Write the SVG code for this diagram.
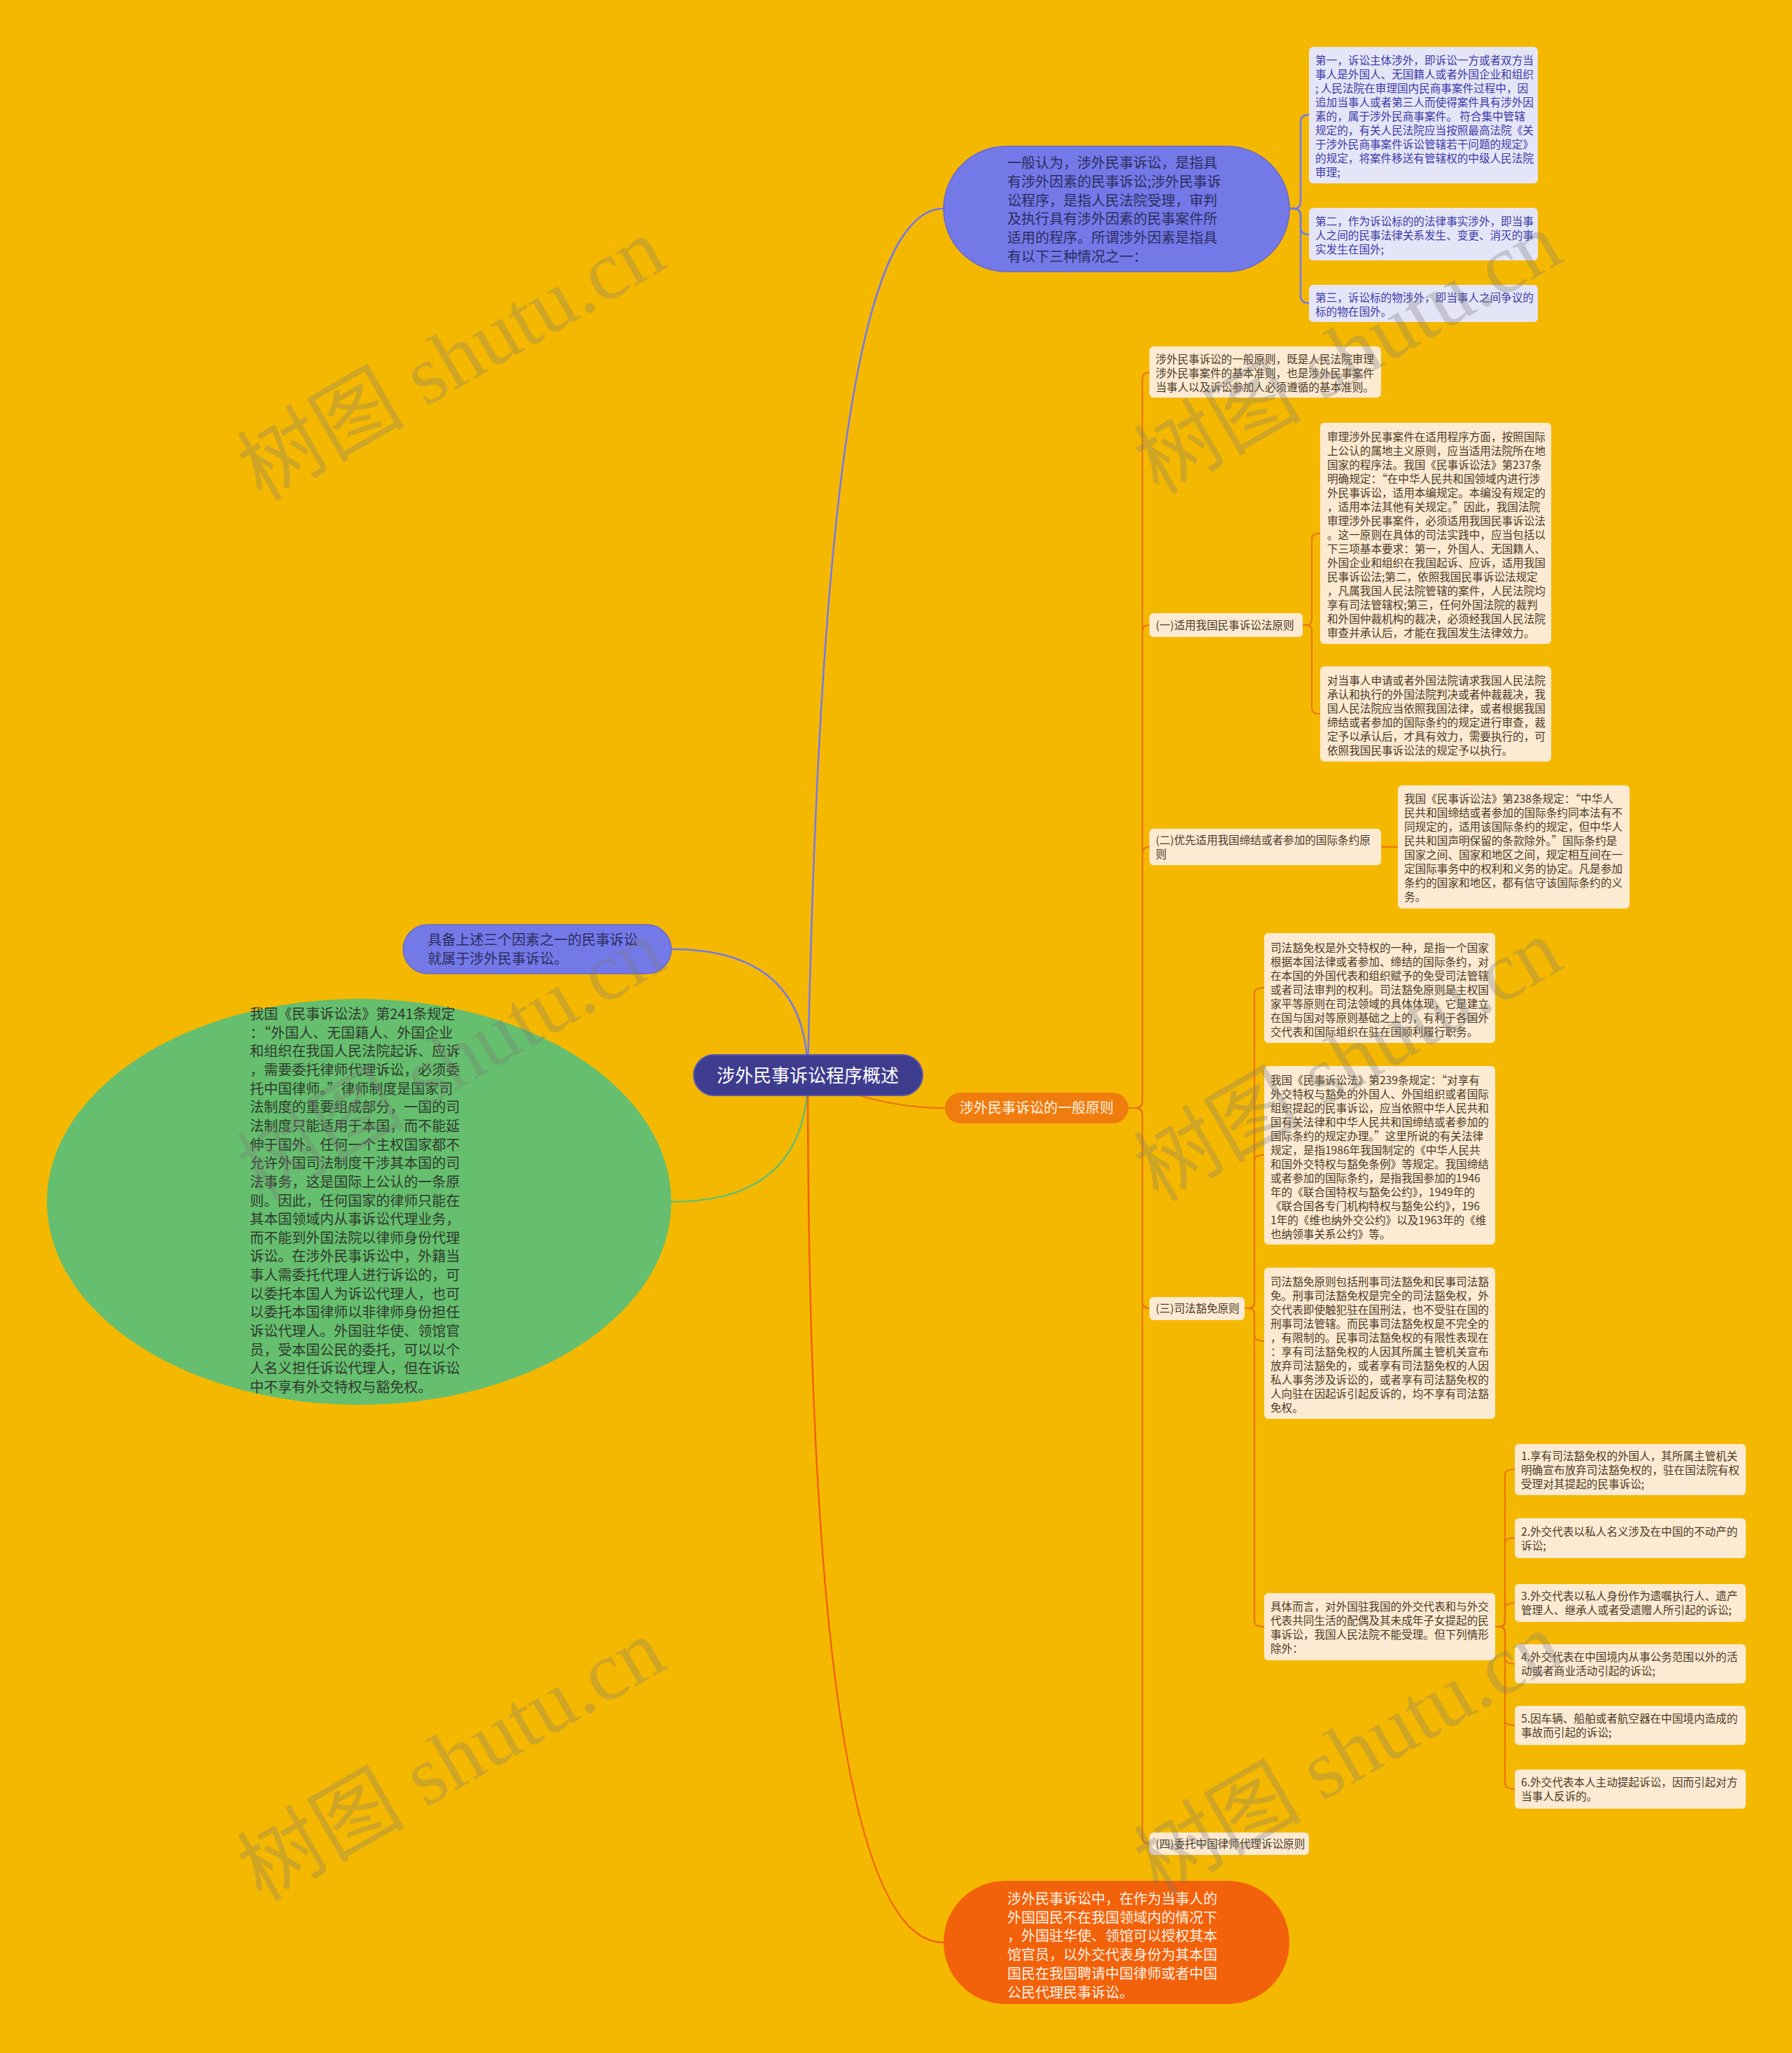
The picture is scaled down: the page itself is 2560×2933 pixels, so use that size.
<svg xmlns="http://www.w3.org/2000/svg" width="2560" height="2933" viewBox="0 0 2560 2933">
<style>
text{font-family:"Noto Sans CJK SC","Noto Sans",sans-serif}
.s{font-size:15.6px;fill:#4b3a27}
.sb{font-size:15.6px;fill:#3a3aa6}
.m{font-size:20px}
.cream{fill:#FCEAD2}
.lav{fill:#E5E5F8}
.cb{fill:none;stroke:#7479E8;stroke-width:2.5}
.co{fill:none;stroke:#E8770E;stroke-width:2.2}
.cr{fill:none;stroke:#F0600A;stroke-width:2.5}
.cg{fill:none;stroke:#66BF6E;stroke-width:2.5}
.wm{font-family:"Liberation Serif","Noto Sans CJK SC",serif;font-size:120px;fill:#7a7a7a;opacity:0.3}
</style>
<rect width="2560" height="2933" fill="#F5B800"/>

<g id="connectors">
<path class="cb" d="M1154,1536 C1170,700 1230,298 1348,298"/>
<path class="cb" d="M1154,1536 Q1154,1356 959,1356"/>
<path class="cg" d="M1154,1536 Q1154,1717 959,1717"/>
<path class="co" d="M1154,1536 Q1250,1583 1350,1583"/>
<path class="cr" d="M1154,1536 Q1154,2775 1348,2775"/>
<path class="cb" stroke-width="2" d="M1842,298 H1848 Q1858,298 1858,288 V174 Q1858,164 1870,164"/>
<path class="cb" stroke-width="2" d="M1842,298 H1848 Q1858,298 1858,308 V325 Q1858,335 1870,335"/>
<path class="cb" stroke-width="2" d="M1842,298 H1848 Q1858,298 1858,308 V423 Q1858,433 1870,433"/>
<path class="co" d="M1612,1583 H1622 Q1632,1583 1632,1573 V542 Q1632,532 1642,532"/>
<path class="co" d="M1612,1583 H1622 Q1632,1583 1632,1573 V903 Q1632,893 1642,893"/>
<path class="co" d="M1612,1583 H1622 Q1632,1583 1632,1573 V1220 Q1632,1210 1642,1210"/>
<path class="co" d="M1612,1583 H1622 Q1632,1583 1632,1593 V1859 Q1632,1869 1642,1869"/>
<path class="co" d="M1612,1583 H1622 Q1632,1583 1632,1593 V2624 Q1632,2634 1642,2634"/>
<path class="co" d="M1861,893 H1866 Q1874,893 1874,885 V770 Q1874,762 1886,762"/>
<path class="co" d="M1861,893 H1866 Q1874,893 1874,901 V1012 Q1874,1020 1886,1020"/>
<path class="co" d="M1973,1210 H1997"/>
<path class="co" d="M1778,1869 H1784 Q1792,1869 1792,1861 V1419 Q1792,1411 1806,1411"/>
<path class="co" d="M1778,1869 H1784 Q1792,1869 1792,1861 V1658 Q1792,1650 1806,1650"/>
<path class="co" d="M1778,1869 H1784 Q1792,1869 1792,1877 V1908 Q1792,1916 1806,1916"/>
<path class="co" d="M1778,1869 H1784 Q1792,1869 1792,1877 V2316 Q1792,2324 1806,2324"/>
<path class="co" d="M2136,2324 H2142 Q2150,2324 2150,2316 V2107 Q2150,2099 2164,2099"/>
<path class="co" d="M2136,2324 H2142 Q2150,2324 2150,2316 V2205 Q2150,2197 2164,2197"/>
<path class="co" d="M2136,2324 H2142 Q2150,2324 2150,2316 V2298 Q2150,2290 2164,2290"/>
<path class="co" d="M2136,2324 H2142 Q2150,2324 2150,2332 V2369 Q2150,2377 2164,2377"/>
<path class="co" d="M2136,2324 H2142 Q2150,2324 2150,2332 V2457 Q2150,2465 2164,2465"/>
<path class="co" d="M2136,2324 H2142 Q2150,2324 2150,2332 V2548 Q2150,2556 2164,2556"/>
</g>

<g id="root">
<rect x="991" y="1507" width="327" height="58" rx="29" fill="#3E3C8E" stroke="#5a58b0" stroke-width="2"/>
<text x="1154" y="1546" font-size="26" fill="#ffffff" text-anchor="middle">涉外民事诉讼程序概述</text>
</g>

<g id="n-def">
<rect x="1348" y="209" width="494" height="179" rx="89.5" fill="#7479E8" stroke="#6468d0" stroke-width="1.5"/>
<text class="m" fill="#2b2d5e"><tspan x="1439" y="240">一般认为，涉外民事诉讼，是指具</tspan><tspan x="1439" dy="26.8">有涉外因素的民事诉讼;涉外民事诉</tspan><tspan x="1439" dy="26.8">讼程序，是指人民法院受理，审判</tspan><tspan x="1439" dy="26.8">及执行具有涉外因素的民事案件所</tspan><tspan x="1439" dy="26.8">适用的程序。所谓涉外因素是指具</tspan><tspan x="1439" dy="26.8">有以下三种情况之一：</tspan></text>
</g>

<g id="n-f1">
<rect class="lav" x="1870" y="67" width="327" height="195" rx="6"/>
<text class="sb"><tspan x="1879" y="92">第一，诉讼主体涉外，即诉讼一方或者双方当</tspan><tspan x="1879" dy="20">事人是外国人、无国籍人或者外国企业和组织</tspan><tspan x="1879" dy="20">; 人民法院在审理国内民商事案件过程中，因</tspan><tspan x="1879" dy="20">追加当事人或者第三人而使得案件具有涉外因</tspan><tspan x="1879" dy="20">素的，属于涉外民商事案件。 符合集中管辖</tspan><tspan x="1879" dy="20">规定的，有关人民法院应当按照最高法院《关</tspan><tspan x="1879" dy="20">于涉外民商事案件诉讼管辖若干问题的规定》</tspan><tspan x="1879" dy="20">的规定，将案件移送有管辖权的中级人民法院</tspan><tspan x="1879" dy="20">审理;</tspan></text>
</g>
<g id="n-f2">
<rect class="lav" x="1870" y="297" width="327" height="75" rx="6"/>
<text class="sb"><tspan x="1879" y="321.5">第二，作为诉讼标的的法律事实涉外，即当事</tspan><tspan x="1879" dy="20">人之间的民事法律关系发生、变更、消灭的事</tspan><tspan x="1879" dy="20">实发生在国外;</tspan></text>
</g>
<g id="n-f3">
<rect class="lav" x="1870" y="407" width="327" height="53" rx="6"/>
<text class="sb"><tspan x="1879" y="430.5">第三，诉讼标的物涉外，即当事人之间争议的</tspan><tspan x="1879" dy="20">标的物在国外。</tspan></text>
</g>

<g id="n-any">
<rect x="576" y="1321" width="383" height="70" rx="35" fill="#7479E8" stroke="#6468d0" stroke-width="1.5"/>
<text class="m" fill="#2b2d5e"><tspan x="611" y="1350">具备上述三个因素之一的民事诉讼</tspan><tspan x="611" dy="27">就属于涉外民事诉讼。</tspan></text>
</g>

<g id="n-241">
<ellipse cx="513" cy="1717" rx="446" ry="290" fill="#66BF6E"/>
<text class="m" fill="#2e3a2e"><tspan x="357" y="1456">我国《民事诉讼法》第241条规定</tspan><tspan x="357" dy="26.65">：“外国人、无国籍人、外国企业</tspan><tspan x="357" dy="26.65">和组织在我国人民法院起诉、应诉</tspan><tspan x="357" dy="26.65">，需要委托律师代理诉讼，必须委</tspan><tspan x="357" dy="26.65">托中国律师。”律师制度是国家司</tspan><tspan x="357" dy="26.65">法制度的重要组成部分，一国的司</tspan><tspan x="357" dy="26.65">法制度只能适用于本国，而不能延</tspan><tspan x="357" dy="26.65">伸于国外。任何一个主权国家都不</tspan><tspan x="357" dy="26.65">允许外国司法制度干涉其本国的司</tspan><tspan x="357" dy="26.65">法事务，这是国际上公认的一条原</tspan><tspan x="357" dy="26.65">则。因此，任何国家的律师只能在</tspan><tspan x="357" dy="26.65">其本国领域内从事诉讼代理业务，</tspan><tspan x="357" dy="26.65">而不能到外国法院以律师身份代理</tspan><tspan x="357" dy="26.65">诉讼。在涉外民事诉讼中，外籍当</tspan><tspan x="357" dy="26.65">事人需委托代理人进行诉讼的，可</tspan><tspan x="357" dy="26.65">以委托本国人为诉讼代理人，也可</tspan><tspan x="357" dy="26.65">以委托本国律师以非律师身份担任</tspan><tspan x="357" dy="26.65">诉讼代理人。外国驻华使、领馆官</tspan><tspan x="357" dy="26.65">员，受本国公民的委托，可以以个</tspan><tspan x="357" dy="26.65">人名义担任诉讼代理人，但在诉讼</tspan><tspan x="357" dy="26.65">中不享有外交特权与豁免权。</tspan></text>
</g>

<g id="n-principle">
<rect x="1350" y="1561" width="262" height="44" rx="22" fill="#F07C0E"/>
<text x="1481" y="1590" class="m" fill="#FFF3E3" text-anchor="middle">涉外民事诉讼的一般原则</text>
</g>

<g id="n-embassy">
<rect x="1348" y="2687" width="494" height="176" rx="88" fill="#F2620A"/>
<text class="m" fill="#FFF1E6"><tspan x="1439" y="2720">涉外民事诉讼中，在作为当事人的</tspan><tspan x="1439" dy="26.7">外国国民不在我国领域内的情况下</tspan><tspan x="1439" dy="26.7">，外国驻华使、领馆可以授权其本</tspan><tspan x="1439" dy="26.7">馆官员，以外交代表身份为其本国</tspan><tspan x="1439" dy="26.7">国民在我国聘请中国律师或者中国</tspan><tspan x="1439" dy="26.7">公民代理民事诉讼。</tspan></text>
</g>

<g id="n-a">
<rect class="cream" x="1642" y="495" width="331" height="73" rx="6"/>
<text class="s"><tspan x="1651" y="518.5">涉外民事诉讼的一般原则，既是人民法院审理</tspan><tspan x="1651" dy="20">涉外民事案件的基本准则，也是涉外民事案件</tspan><tspan x="1651" dy="20">当事人以及诉讼参加人必须遵循的基本准则。</tspan></text>
</g>

<g id="n-b">
<rect class="cream" x="1642" y="876" width="219" height="34" rx="6"/>
<text class="s" x="1651" y="898.5">(一)适用我国民事诉讼法原则</text>
</g>
<g id="n-b1">
<rect class="cream" x="1886" y="604" width="330" height="316" rx="6"/>
<text class="s"><tspan x="1896" y="629.5">审理涉外民事案件在适用程序方面，按照国际</tspan><tspan x="1896" dy="20">上公认的属地主义原则，应当适用法院所在地</tspan><tspan x="1896" dy="20">国家的程序法。我国《民事诉讼法》第237条</tspan><tspan x="1896" dy="20">明确规定：“在中华人民共和国领域内进行涉</tspan><tspan x="1896" dy="20">外民事诉讼，适用本编规定。本编没有规定的</tspan><tspan x="1896" dy="20">，适用本法其他有关规定。”因此，我国法院</tspan><tspan x="1896" dy="20">审理涉外民事案件，必须适用我国民事诉讼法</tspan><tspan x="1896" dy="20">。这一原则在具体的司法实践中，应当包括以</tspan><tspan x="1896" dy="20">下三项基本要求：第一，外国人、无国籍人、</tspan><tspan x="1896" dy="20">外国企业和组织在我国起诉、应诉，适用我国</tspan><tspan x="1896" dy="20">民事诉讼法;第二，依照我国民事诉讼法规定</tspan><tspan x="1896" dy="20">，凡属我国人民法院管辖的案件，人民法院均</tspan><tspan x="1896" dy="20">享有司法管辖权;第三，任何外国法院的裁判</tspan><tspan x="1896" dy="20">和外国仲裁机构的裁决，必须经我国人民法院</tspan><tspan x="1896" dy="20">审查并承认后，才能在我国发生法律效力。</tspan></text>
</g>
<g id="n-b2">
<rect class="cream" x="1886" y="952" width="330" height="136" rx="6"/>
<text class="s"><tspan x="1896" y="977.5">对当事人申请或者外国法院请求我国人民法院</tspan><tspan x="1896" dy="20">承认和执行的外国法院判决或者仲裁裁决，我</tspan><tspan x="1896" dy="20">国人民法院应当依照我国法律，或者根据我国</tspan><tspan x="1896" dy="20">缔结或者参加的国际条约的规定进行审查，裁</tspan><tspan x="1896" dy="20">定予以承认后，才具有效力，需要执行的，可</tspan><tspan x="1896" dy="20">依照我国民事诉讼法的规定予以执行。</tspan></text>
</g>

<g id="n-c">
<rect class="cream" x="1642" y="1184" width="331" height="52" rx="6"/>
<text class="s"><tspan x="1651" y="1205.5">(二)优先适用我国缔结或者参加的国际条约原</tspan><tspan x="1651" dy="20">则</tspan></text>
</g>
<g id="n-c1">
<rect class="cream" x="1997" y="1122" width="331" height="176" rx="6"/>
<text class="s"><tspan x="2006" y="1146.5">我国《民事诉讼法》第238条规定：“中华人</tspan><tspan x="2006" dy="20">民共和国缔结或者参加的国际条约同本法有不</tspan><tspan x="2006" dy="20">同规定的，适用该国际条约的规定，但中华人</tspan><tspan x="2006" dy="20">民共和国声明保留的条款除外。”国际条约是</tspan><tspan x="2006" dy="20">国家之间、国家和地区之间，规定相互间在一</tspan><tspan x="2006" dy="20">定国际事务中的权利和义务的协定。凡是参加</tspan><tspan x="2006" dy="20">条约的国家和地区，都有信守该国际条约的义</tspan><tspan x="2006" dy="20">务。</tspan></text>
</g>

<g id="n-d">
<rect class="cream" x="1642" y="1853" width="136" height="33" rx="6"/>
<text class="s" x="1651" y="1875">(三)司法豁免原则</text>
</g>
<g id="n-d1">
<rect class="cream" x="1806" y="1333" width="330" height="157" rx="6"/>
<text class="s"><tspan x="1815" y="1359.5">司法豁免权是外交特权的一种，是指一个国家</tspan><tspan x="1815" dy="20">根据本国法律或者参加、缔结的国际条约，对</tspan><tspan x="1815" dy="20">在本国的外国代表和组织赋予的免受司法管辖</tspan><tspan x="1815" dy="20">或者司法审判的权利。司法豁免原则是主权国</tspan><tspan x="1815" dy="20">家平等原则在司法领域的具体体现，它是建立</tspan><tspan x="1815" dy="20">在国与国对等原则基础之上的，有利于各国外</tspan><tspan x="1815" dy="20">交代表和国际组织在驻在国顺利履行职务。</tspan></text>
</g>
<g id="n-d2">
<rect class="cream" x="1806" y="1523" width="330" height="255" rx="6"/>
<text class="s"><tspan x="1815" y="1548.5">我国《民事诉讼法》第239条规定：“对享有</tspan><tspan x="1815" dy="20">外交特权与豁免的外国人、外国组织或者国际</tspan><tspan x="1815" dy="20">组织提起的民事诉讼，应当依照中华人民共和</tspan><tspan x="1815" dy="20">国有关法律和中华人民共和国缔结或者参加的</tspan><tspan x="1815" dy="20">国际条约的规定办理。”这里所说的有关法律</tspan><tspan x="1815" dy="20">规定，是指1986年我国制定的《中华人民共</tspan><tspan x="1815" dy="20">和国外交特权与豁免条例》等规定。我国缔结</tspan><tspan x="1815" dy="20">或者参加的国际条约，是指我国参加的1946</tspan><tspan x="1815" dy="20">年的《联合国特权与豁免公约》，1949年的</tspan><tspan x="1815" dy="20">《联合国各专门机构特权与豁免公约》，196</tspan><tspan x="1815" dy="20">1年的《维也纳外交公约》以及1963年的《维</tspan><tspan x="1815" dy="20">也纳领事关系公约》等。</tspan></text>
</g>
<g id="n-d3">
<rect class="cream" x="1806" y="1811" width="330" height="216" rx="6"/>
<text class="s"><tspan x="1815" y="1836.5">司法豁免原则包括刑事司法豁免和民事司法豁</tspan><tspan x="1815" dy="20">免。刑事司法豁免权是完全的司法豁免权，外</tspan><tspan x="1815" dy="20">交代表即使触犯驻在国刑法，也不受驻在国的</tspan><tspan x="1815" dy="20">刑事司法管辖。而民事司法豁免权是不完全的</tspan><tspan x="1815" dy="20">，有限制的。民事司法豁免权的有限性表现在</tspan><tspan x="1815" dy="20">：享有司法豁免权的人因其所属主管机关宣布</tspan><tspan x="1815" dy="20">放弃司法豁免的，或者享有司法豁免权的人因</tspan><tspan x="1815" dy="20">私人事务涉及诉讼的，或者享有司法豁免权的</tspan><tspan x="1815" dy="20">人向驻在因起诉引起反诉的，均不享有司法豁</tspan><tspan x="1815" dy="20">免权。</tspan></text>
</g>
<g id="n-d4">
<rect class="cream" x="1806" y="2276" width="330" height="96" rx="6"/>
<text class="s"><tspan x="1815" y="2300.5">具体而言，对外国驻我国的外交代表和与外交</tspan><tspan x="1815" dy="20">代表共同生活的配偶及其未成年子女提起的民</tspan><tspan x="1815" dy="20">事诉讼，我国人民法院不能受理。但下列情形</tspan><tspan x="1815" dy="20">除外：</tspan></text>
</g>
<g id="n-i1">
<rect class="cream" x="2164" y="2063" width="330" height="73" rx="6"/>
<text class="s"><tspan x="2173" y="2085.5">1.享有司法豁免权的外国人，其所属主管机关</tspan><tspan x="2173" dy="20">明确宣布放弃司法豁免权的，驻在国法院有权</tspan><tspan x="2173" dy="20">受理对其提起的民事诉讼;</tspan></text>
</g>
<g id="n-i2">
<rect class="cream" x="2164" y="2169" width="330" height="57" rx="6"/>
<text class="s"><tspan x="2173" y="2193.5">2.外交代表以私人名义涉及在中国的不动产的</tspan><tspan x="2173" dy="20">诉讼;</tspan></text>
</g>
<g id="n-i3">
<rect class="cream" x="2164" y="2263" width="330" height="54" rx="6"/>
<text class="s"><tspan x="2173" y="2285.5">3.外交代表以私人身份作为遗嘱执行人、遗产</tspan><tspan x="2173" dy="20">管理人、继承人或者受遗赠人所引起的诉讼;</tspan></text>
</g>
<g id="n-i4">
<rect class="cream" x="2164" y="2349" width="330" height="56" rx="6"/>
<text class="s"><tspan x="2173" y="2372.5">4.外交代表在中国境内从事公务范围以外的活</tspan><tspan x="2173" dy="20">动或者商业活动引起的诉讼;</tspan></text>
</g>
<g id="n-i5">
<rect class="cream" x="2164" y="2437" width="330" height="56" rx="6"/>
<text class="s"><tspan x="2173" y="2460.5">5.因车辆、船舶或者航空器在中国境内造成的</tspan><tspan x="2173" dy="20">事故而引起的诉讼;</tspan></text>
</g>
<g id="n-i6">
<rect class="cream" x="2164" y="2528" width="330" height="56" rx="6"/>
<text class="s"><tspan x="2173" y="2551.5">6.外交代表本人主动提起诉讼，因而引起对方</tspan><tspan x="2173" dy="20">当事人反诉的。</tspan></text>
</g>

<g id="n-e">
<rect class="cream" x="1642" y="2618" width="228" height="32" rx="6"/>
<text class="s" x="1651" y="2639.5">(四)委托中国律师代理诉讼原则</text>
</g>

<g id="watermarks">
<text class="wm" transform="translate(645,514) rotate(-30)" text-anchor="middle" dy="40">树图 shutu.cn</text>
<text class="wm" transform="translate(1926,505) rotate(-30)" text-anchor="middle" dy="40">树图 shutu.cn</text>
<text class="wm" transform="translate(645,1515) rotate(-30)" text-anchor="middle" dy="40">树图 shutu.cn</text>
<text class="wm" transform="translate(1926,1515) rotate(-30)" text-anchor="middle" dy="40">树图 shutu.cn</text>
<text class="wm" transform="translate(645,2515) rotate(-30)" text-anchor="middle" dy="40">树图 shutu.cn</text>
<text class="wm" transform="translate(1926,2506) rotate(-30)" text-anchor="middle" dy="40">树图 shutu.cn</text>
</g>
</svg>
